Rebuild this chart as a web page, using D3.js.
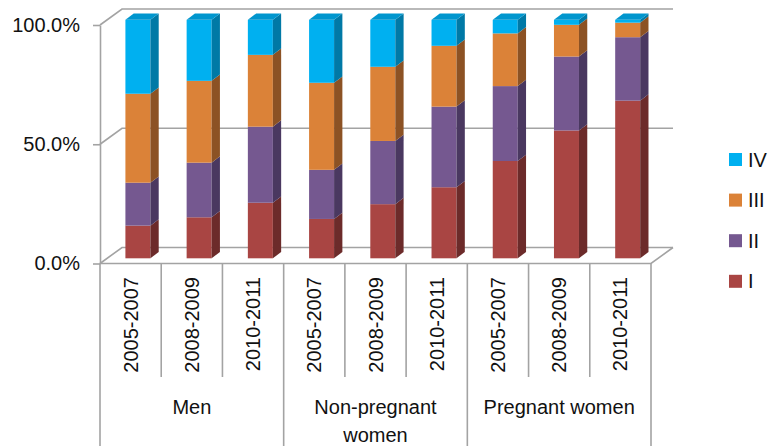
<!DOCTYPE html>
<html>
<head>
<meta charset="utf-8">
<script src="https://cdn.jsdelivr.net/npm/d3@7/dist/d3.min.js"></script>
<style>
  html, body { margin: 0; padding: 0; background: #fff; }
  svg { display: block; font-family: "Liberation Sans", Arial, Helvetica, sans-serif; }
</style>
</head>
<body>
<svg id="chart" width="769" height="446"></svg>
<script>
// Periods within each population group
const periods = ["2005-2007", "2008-2009", "2010-2011"];
// Population groups (one label line per entry)
const groupLines = [["Men"], ["Non-pregnant", "women"], ["Pregnant women"]];
// Stage names, bottom to top of each stack
const stages = ["I", "II", "III", "IV"];
// Percent share of each stage, one value per column (Men x3, Non-pregnant x3, Pregnant x3)
const stageI   = [13.7, 17.2, 23.3, 16.5, 22.7, 29.8, 40.8, 53.6, 66.1];
const stageII  = [18.0, 22.9, 31.9, 20.6, 26.5, 33.8, 31.4, 31.0, 26.6];
const stageIII = [37.3, 34.3, 30.1, 36.5, 31.1, 25.5, 22.1, 13.3, 6.1];
const stageIV  = [31.0, 25.6, 14.7, 26.4, 19.7, 10.9, 5.7, 2.1, 1.2];
// Value axis ticks
const yTicks = [0, 0.5, 1];

const seriesValues = [stageI, stageII, stageIII, stageIV];
const colors = {
  I:   { front: "#A94543", side: "#6C2B2A", top: "#8F3A38" },
  II:  { front: "#755890", side: "#4A3860", top: "#634A7A" },
  III: { front: "#DB8238", side: "#8C5224", top: "#BA6D2F" },
  IV:  { front: "#00B0F0", side: "#0079A6", top: "#0096CE" }
};

const columns = [];
groupLines.forEach((g, gi) => periods.forEach((p, pi) => columns.push({ group: gi, period: p })));
const rows = columns.map((c, i) => {
  const r = { index: i };
  stages.forEach((s, si) => { r[s] = seriesValues[si][i]; });
  return r;
});
const stacked = d3.stack().keys(stages).offset(d3.stackOffsetExpand)(rows);

const svg = d3.select("#chart");
const gridColor = "#a3a3a3";

const x = d3.scaleBand().domain(d3.range(columns.length)).range([100, 651]);
const y = d3.scaleLinear().domain([0, 1]).range([263.5, 25]);

// Oblique depth of the plot box, of the bar plane and of each bar
const wall = { dx: 22, dy: -16 };
const barPlane = { dx: 7.3, dy: -5.2 };
const barDepth = { dx: 8.3, dy: -6.3 };
const barWidth = 25;

const x0 = x.range()[0], x1 = x.range()[1];

// Back wall gridlines with the left diagonal
const grid = svg.append("g").attr("fill", "none").attr("stroke", gridColor).attr("stroke-width", 1.6);
yTicks.forEach(t => {
  grid.append("path").attr("d", d3.line()([
    [x0, y(t)], [x0 + wall.dx, y(t) + wall.dy], [x1 + wall.dx, y(t) + wall.dy]
  ]));
});
// Floor front edge and right diagonal
grid.append("path").attr("d", d3.line()([
  [x0, y(0)], [x1, y(0)], [x1 + wall.dx, y(0) + wall.dy]
]));

// Bars
const bars = svg.append("g");
stacked.forEach((layer, li) => {
  const c = colors[layer.key];
  const isTop = li === stacked.length - 1;
  layer.forEach((d, i) => {
    const cx = x(i) + x.bandwidth() / 2 + barPlane.dx;
    const xl = cx - barWidth / 2, xr = cx + barWidth / 2;
    const yt = y(d[1]) + barPlane.dy, yb = y(d[0]) + barPlane.dy;
    bars.append("rect").attr("x", xl).attr("y", yt)
      .attr("width", barWidth).attr("height", Math.max(0, yb - yt)).attr("fill", c.front);
    bars.append("path").attr("fill", c.side).attr("d", d3.line()([
      [xr, yt], [xr + barDepth.dx, yt + barDepth.dy], [xr + barDepth.dx, yb + barDepth.dy], [xr, yb]
    ]) + "Z");
    if (isTop) {
      bars.append("path").attr("fill", c.top).attr("d", d3.line()([
        [xl, yt], [xl + barDepth.dx, yt + barDepth.dy], [xr + barDepth.dx, yt + barDepth.dy], [xr, yt]
      ]) + "Z");
    }
  });
});

// Value axis
const yAxis = svg.append("g").attr("transform", `translate(${x0},0)`)
  .call(d3.axisLeft(y).tickValues(yTicks).tickFormat(d3.format(".1%")).tickSize(7).tickSizeOuter(0).tickPadding(13));
yAxis.select(".domain").attr("stroke", gridColor).attr("stroke-width", 1.6);
yAxis.selectAll(".tick line").attr("stroke", gridColor).attr("stroke-width", 1.6);
yAxis.selectAll(".tick text").attr("font-size", 20).attr("fill", "#111")
  .attr("font-family", "'Liberation Sans', Arial, Helvetica, sans-serif");

// Category table below the floor
const table = svg.append("g").attr("stroke", gridColor).attr("stroke-width", 1.6);
d3.range(columns.length + 1).forEach(k => {
  const xx = k < columns.length ? x(k) : x1;
  table.append("line").attr("x1", xx).attr("x2", xx)
    .attr("y1", y(0)).attr("y2", k % periods.length === 0 ? 446 : 377);
});

// Period labels, rotated
svg.append("g").selectAll("text").data(columns).join("text")
  .attr("transform", (d, i) => `translate(${x(i) + x.bandwidth() / 2},277) rotate(-90)`)
  .attr("text-anchor", "end").attr("dy", "0.35em")
  .attr("font-size", 20).attr("fill", "#111")
  .text(d => d.period);

// Group labels
const groupWidth = x.bandwidth() * periods.length;
groupLines.forEach((lines, gi) => {
  const gx = x0 + groupWidth * (gi + 0.5);
  lines.forEach((t, li) => {
    svg.append("text").attr("x", gx).attr("y", 414 + li * 28)
      .attr("text-anchor", "middle").attr("font-size", 20).attr("fill", "#111").text(t);
  });
});

// Legend, top stage first
const legendOrder = stages.slice().reverse();
const ly = d3.scalePoint().domain(legendOrder).range([159.5, 281.3]);
const legend = svg.append("g");
legendOrder.forEach(s => {
  legend.append("rect").attr("x", 729).attr("y", ly(s) - 6.5).attr("width", 13).attr("height", 13)
    .attr("fill", colors[s].front);
  legend.append("text").attr("x", 748).attr("y", ly(s)).attr("dy", "0.35em")
    .attr("font-size", 20).attr("fill", "#111").text(s);
});
</script>
</body>
</html>
